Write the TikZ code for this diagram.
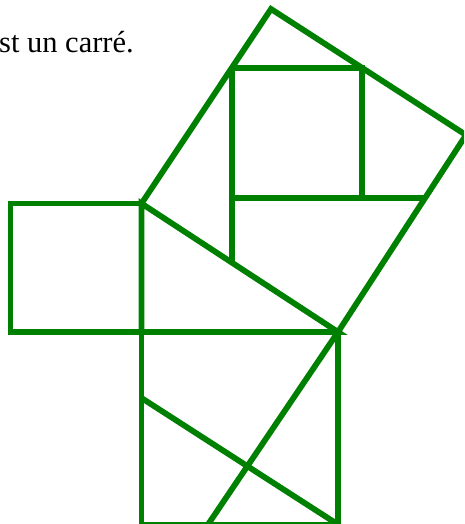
\documentclass[tikz,border=0pt]{standalone}
\usepackage{fontspec}
\setmainfont{Liberation Serif}
\definecolor{geo}{RGB}{0,128,0}
\begin{document}
\begin{tikzpicture}[x=1pt,y=-1pt,
  edge/.style={draw=geo,line width=5.8pt,line join=miter},
  label/.style={font=\fontsize{30.5}{36}\selectfont,inner sep=0pt}]
\useasboundingbox (0,0) rectangle (464,524);
\clip (0,0) rectangle (464,524);
% triangle and squares
\coordinate (P) at (141.5,203.5);
\coordinate (Q) at (141.5,332);
\coordinate (R) at (338,332);
\coordinate (T) at (271,9);
\coordinate (U) at (466,135);
\coordinate (A1) at (10.5,203.5);
\coordinate (A2) at (10.5,332);
\coordinate (BL) at (141.5,524.5);
\coordinate (BR) at (338,524.5);
\coordinate (L1e) at (208,524.5);
\coordinate (L2s) at (141.5,398);
\coordinate (C1) at (232,68);
\coordinate (C2) at (362,68);
\coordinate (C3) at (362,198);
\coordinate (C4) at (232,198);
\coordinate (H1) at (232,262.7);
\coordinate (E1) at (425,198);
\node[label,anchor=base east] (txt) at (134,53) {st un carré.};
\draw[edge] (P) -- (A1) -- (A2) -- (Q);
\draw[edge] (P) -- (Q) -- (R) -- cycle;
\draw[edge] (P) -- (T) -- (U) -- (R);
\draw[edge] (Q) -- (BL) -- (BR) -- (R);
\draw[edge] (R) -- (L1e);
\draw[edge] (L2s) -- (BR);
\draw[edge] (C1) -- (C2) -- (C3);
\draw[edge] (C1) -- (H1);
\draw[edge] (C4) -- (E1);
\end{tikzpicture}
\end{document}
